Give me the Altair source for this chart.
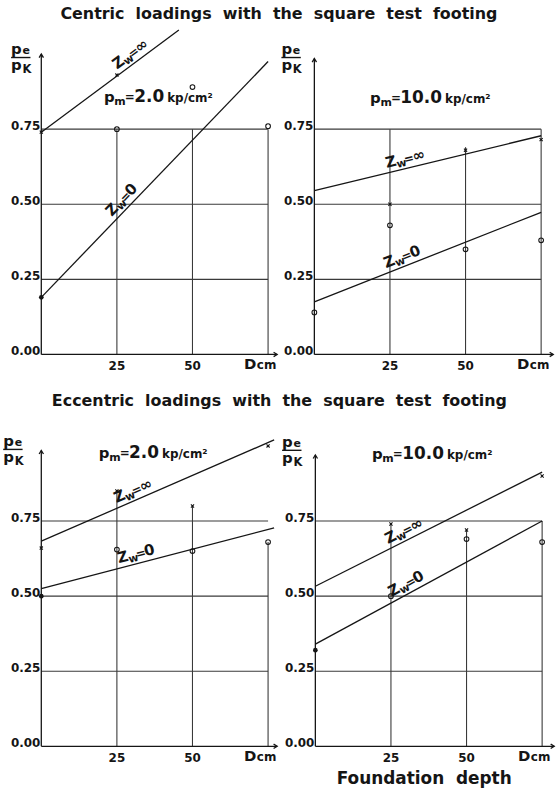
import math
import altair as alt
import pandas as pd

FONT = "DejaVu Sans"
INK = "#151515"
GRID = "#3a3a3a"
PXX = 3.04   # pixels per cm of foundation depth
PXY = 302.0  # pixels per unit of pe/pK

# ---------------- data ----------------
ROW_TITLES = ["Centric\u00a0 loadings\u00a0 with\u00a0 the\u00a0 square\u00a0 test\u00a0 footing",
              "Eccentric\u00a0 loadings\u00a0 with\u00a0 the\u00a0 square\u00a0 test\u00a0 footing"]
PANELS = ["c2", "c10", "e2", "e10"]
PM_VALUES = {"c2": "2.0", "c10": "10.0", "e2": "2.0", "e10": "10.0"}

Y_TICKS = [0.00, 0.25, 0.50, 0.75]
X_TICKS = [25, 50]
GRID_Y = [0.25, 0.50, 0.75]
GRID_D = [25, 50, 75]
D_POS = [0, 25, 50, 75]

# measured points, Zw = 0 (circles)
c2_circle_y = [0.19, 0.75, 0.89, 0.76]
c10_circle_y = [0.14, 0.43, 0.35, 0.38]
e2_circle_y = [0.50, 0.655, 0.65, 0.68]
e10_circle_y = [0.32, 0.50, 0.69, 0.68]
circle_first_filled = {"c2": True, "c10": False, "e2": True, "e10": True}

# measured points, Zw = infinity (crosses)
c2_cross_D = [0, 25]
c2_cross_y = [0.74, 0.93]
c10_cross_D = [25, 50, 75]
c10_cross_y = [0.50, 0.68, 0.715]
e2_cross_D = [0, 25, 50, 75]
e2_cross_y = [0.66, 0.85, 0.80, 1.00]
e10_cross_D = [25, 50, 75]
e10_cross_y = [0.74, 0.72, 0.90]

# fitted straight lines: (D start, D end), (y start, y end)
c2_line_inf = ([0, 45.5], [0.74, 1.08])
c2_line_0 = ([0, 75], [0.19, 0.975])
c10_line_inf = ([0, 75], [0.545, 0.728])
c10_line_0 = ([0, 75], [0.175, 0.473])
e2_line_inf = ([0, 77], [0.683, 1.02])
e2_line_0 = ([0, 77], [0.525, 0.727])
e10_line_inf = ([0, 75], [0.533, 0.913])
e10_line_0 = ([0, 75], [0.34, 0.75])

# top of the vertical guide lines at D = 25, 50, 75
grid_top = {"c2": [0.75, 0.75, 0.75], "c10": [0.75, 0.69, 0.75],
            "e2": [0.85, 0.80, 0.68], "e10": [0.74, 0.72, 0.75]}
y_axis_top = {"c2": 1.0, "c10": 0.985, "e2": 0.985, "e10": 0.97}
x_axis_end = {"c2": 78.0, "c10": 79.0, "e2": 78.0, "e10": 79.0}

# annotation anchors (data coordinates)
pe_anchor = {"c2": (-10.0, 1.0), "c10": (-10.9, 1.0), "e2": (-12.6, 1.0), "e10": (-11.0, 0.997)}
pm_anchor = {"c2": (20.7, 0.84), "c10": (18.4, 0.836), "e2": (19.0, 0.96), "e10": (18.7, 0.957)}
zw_start = {"c2": (26.0, 24.5), "c10": (24.3, 24.3), "e2": (25.5, 26.0), "e10": (24.8, 26.0)}
dcm_D = 67.0
foundation_D = 36.0

circles = {"c2": c2_circle_y, "c10": c10_circle_y, "e2": e2_circle_y, "e10": e10_circle_y}
crosses = {"c2": (c2_cross_D, c2_cross_y), "c10": (c10_cross_D, c10_cross_y),
           "e2": (e2_cross_D, e2_cross_y), "e10": (e10_cross_D, e10_cross_y)}
lines = {"c2": (c2_line_inf, c2_line_0), "c10": (c10_line_inf, c10_line_0),
         "e2": (e2_line_inf, e2_line_0), "e10": (e10_line_inf, e10_line_0)}

XDOM = {"left": [-13.0, 78.5], "right": [-11.2, 79.5]}
YDOM = {"top": [-0.08, 1.10], "bottom": [-0.15, 1.10]}

CROSS = "M-1,-1L1,1M-1,1L1,-1"
UP = "M-0.8,1.3L0,0L0.8,1.3"
RIGHT = "M-1.3,-0.8L0,0L-1.3,0.8"


def panel(k, col, row, bottom_label=False):
    xdom, ydom = XDOM[col], YDOM[row]
    width = (xdom[1] - xdom[0]) * PXX
    height = (ydom[1] - ydom[0]) * PXY
    xs = alt.Scale(domain=xdom, nice=False, zero=False)
    ys = alt.Scale(domain=ydom, nice=False, zero=False)

    def X(f="D"):
        return alt.X(f"{f}:Q", scale=xs, axis=None)

    def Y(f="y"):
        return alt.Y(f"{f}:Q", scale=ys, axis=None)

    def txt(d, y, text, size, dx=0, dy=0, angle=0, align="left", baseline="alphabetic"):
        df = pd.DataFrame({"D": [d], "y": [y]})
        return alt.Chart(df).mark_text(
            text=text, fontSize=size, dx=dx, dy=dy, angle=angle % 360, align=align,
            baseline=baseline, font=FONT, fontWeight="bold", color=INK
        ).encode(x=X(), y=Y())

    layers = []
    # horizontal guide lines
    hg = pd.DataFrame({"D": [0] * len(GRID_Y), "D2": [75] * len(GRID_Y), "y": GRID_Y})
    layers.append(alt.Chart(hg).mark_rule(color=GRID, strokeWidth=1.1).encode(
        x=X(), x2="D2:Q", y=Y()))
    # vertical guide lines
    vg = pd.DataFrame({"D": GRID_D, "y": [0] * 3, "y2": grid_top[k]})
    layers.append(alt.Chart(vg).mark_rule(color=GRID, strokeWidth=1.1).encode(
        x=X(), y=Y(), y2="y2:Q"))
    # axes
    ya = pd.DataFrame({"D": [0], "y": [0], "y2": [y_axis_top[k]]})
    layers.append(alt.Chart(ya).mark_rule(color=INK, strokeWidth=1.3).encode(
        x=X(), y=Y(), y2="y2:Q"))
    xa = pd.DataFrame({"D": [0], "D2": [x_axis_end[k]], "y": [0]})
    layers.append(alt.Chart(xa).mark_rule(color=INK, strokeWidth=1.3).encode(
        x=X(), x2="D2:Q", y=Y()))
    layers.append(alt.Chart(pd.DataFrame({"D": [0], "y": [y_axis_top[k]]})).mark_point(
        shape=UP, size=30, filled=False, color=INK, strokeWidth=1.3, opacity=1).encode(x=X(), y=Y()))
    layers.append(alt.Chart(pd.DataFrame({"D": [x_axis_end[k]], "y": [0]})).mark_point(
        shape=RIGHT, size=30, filled=False, color=INK, strokeWidth=1.3, opacity=1).encode(x=X(), y=Y()))

    # tick labels
    yt = pd.DataFrame({"D": [0] * 4, "y": Y_TICKS, "t": [f"{v:.2f}" for v in Y_TICKS]})
    layers.append(alt.Chart(yt).mark_text(
        align="right", baseline="alphabetic", dx=-1, dy=1, fontSize=12, font=FONT,
        fontWeight="bold", color=INK).encode(x=X(), y=Y(), text="t:N"))
    xt = pd.DataFrame({"D": X_TICKS, "y": [0] * 2, "t": [str(v) for v in X_TICKS]})
    layers.append(alt.Chart(xt).mark_text(
        align="center", baseline="alphabetic", dy=16, fontSize=12, font=FONT,
        fontWeight="bold", color=INK).encode(x=X(), y=Y(), text="t:N"))
    layers.append(txt(dcm_D, 0, "D", 15, dy=15))
    layers.append(txt(dcm_D, 0, "cm", 12, dx=13, dy=15))

    # pe / pK label
    pd0, py0 = pe_anchor[k]
    layers.append(txt(pd0, py0, "p", 15))
    layers.append(txt(pd0, py0, "e", 11, dx=11.5))
    ul = pd.DataFrame({"D": [pd0], "D2": [pd0 + 19.5 / PXX], "y": [py0 - 3.5 / PXY]})
    layers.append(alt.Chart(ul).mark_rule(color=INK, strokeWidth=1.4).encode(
        x=X(), x2="D2:Q", y=Y()))
    layers.append(txt(pd0, py0, "p", 15, dy=16))
    layers.append(txt(pd0, py0, "K", 11.5, dx=11.5, dy=19))

    # pm = value kp/cm2
    md, my = pm_anchor[k]
    val = PM_VALUES[k]
    vw = 17 * (0.696 * sum(c.isdigit() for c in val) + 0.38 * val.count("."))
    layers.append(txt(md, my, "p", 15))
    layers.append(txt(md, my, "m", 11, dx=10.5, dy=3))
    layers.append(txt(md, my, "=", 12, dx=21, dy=-1))
    layers.append(txt(md, my, val, 17, dx=30.5))
    layers.append(txt(md, my, "kp/cm\u00b2", 12, dx=30.5 + vw + 3))

    # fitted lines
    rows = []
    for name, (ds, ysv) in zip(["inf", "zero"], lines[k]):
        for d, y in zip(ds, ysv):
            rows.append({"D": d, "y": y, "s": name})
    layers.append(alt.Chart(pd.DataFrame(rows)).mark_line(color=INK, strokeWidth=1.3).encode(
        x=X(), y=Y(), detail="s:N"))

    # Zw labels along the lines
    for (ds, ysv), d0, sym in zip(lines[k], zw_start[k], ["\u221e", "0"]):
        slope = (ysv[1] - ysv[0]) / (ds[1] - ds[0])
        ang = -math.degrees(math.atan(slope * PXY / PXX))
        y0 = ysv[0] + slope * (d0 - ds[0])
        layers.append(txt(d0, y0, "Z", 15, dy=-5, angle=ang))
        layers.append(txt(d0, y0, "w", 11, dx=10.5, dy=-2.5, angle=ang))
        layers.append(txt(d0, y0, "=", 12, dx=19, dy=-5, angle=ang))
        layers.append(txt(d0, y0, sym, 15, dx=28, dy=-5, angle=ang))

    # measured points
    cy = circles[k]
    filled = circle_first_filled[k]
    cdf = pd.DataFrame({"D": D_POS, "y": cy, "f": [filled] + [False] * 3})
    layers.append(alt.Chart(cdf[~cdf.f]).mark_point(
        shape="circle", size=22, filled=False, color=INK, strokeWidth=1.1, opacity=1).encode(x=X(), y=Y()))
    if filled:
        layers.append(alt.Chart(cdf[cdf.f]).mark_point(
            shape="circle", size=22, filled=True, color=INK, opacity=1).encode(x=X(), y=Y()))
    xd, xy = crosses[k]
    layers.append(alt.Chart(pd.DataFrame({"D": xd, "y": xy})).mark_point(
        shape=CROSS, size=10, filled=False, color=INK, strokeWidth=1.1, opacity=1).encode(x=X(), y=Y()))

    if bottom_label:
        layers.append(txt(foundation_D, 0, "Foundation\u00a0 depth", 17, dy=38, align="center"))

    return alt.layer(*layers).properties(width=width, height=height)


def row_title(text, offset):
    return alt.TitleParams(text=text, fontSize=16, font=FONT, fontWeight="bold",
                           color=INK, anchor="middle", offset=offset)


top = alt.hconcat(panel("c2", "left", "top"), panel("c10", "right", "top"),
                  spacing=0, title=row_title(ROW_TITLES[0], 2))
bottom = alt.hconcat(panel("e2", "left", "bottom"), panel("e10", "right", "bottom", bottom_label=True),
                     spacing=0, title=row_title(ROW_TITLES[1], 7))

chart = alt.vconcat(top, bottom, spacing=14).properties(
    padding={"left": 2, "top": 4, "right": 0, "bottom": 0},
    background="white",
).configure_view(stroke=None)

chart.save("out.html", embed_options={"renderer": "svg", "actions": False})
